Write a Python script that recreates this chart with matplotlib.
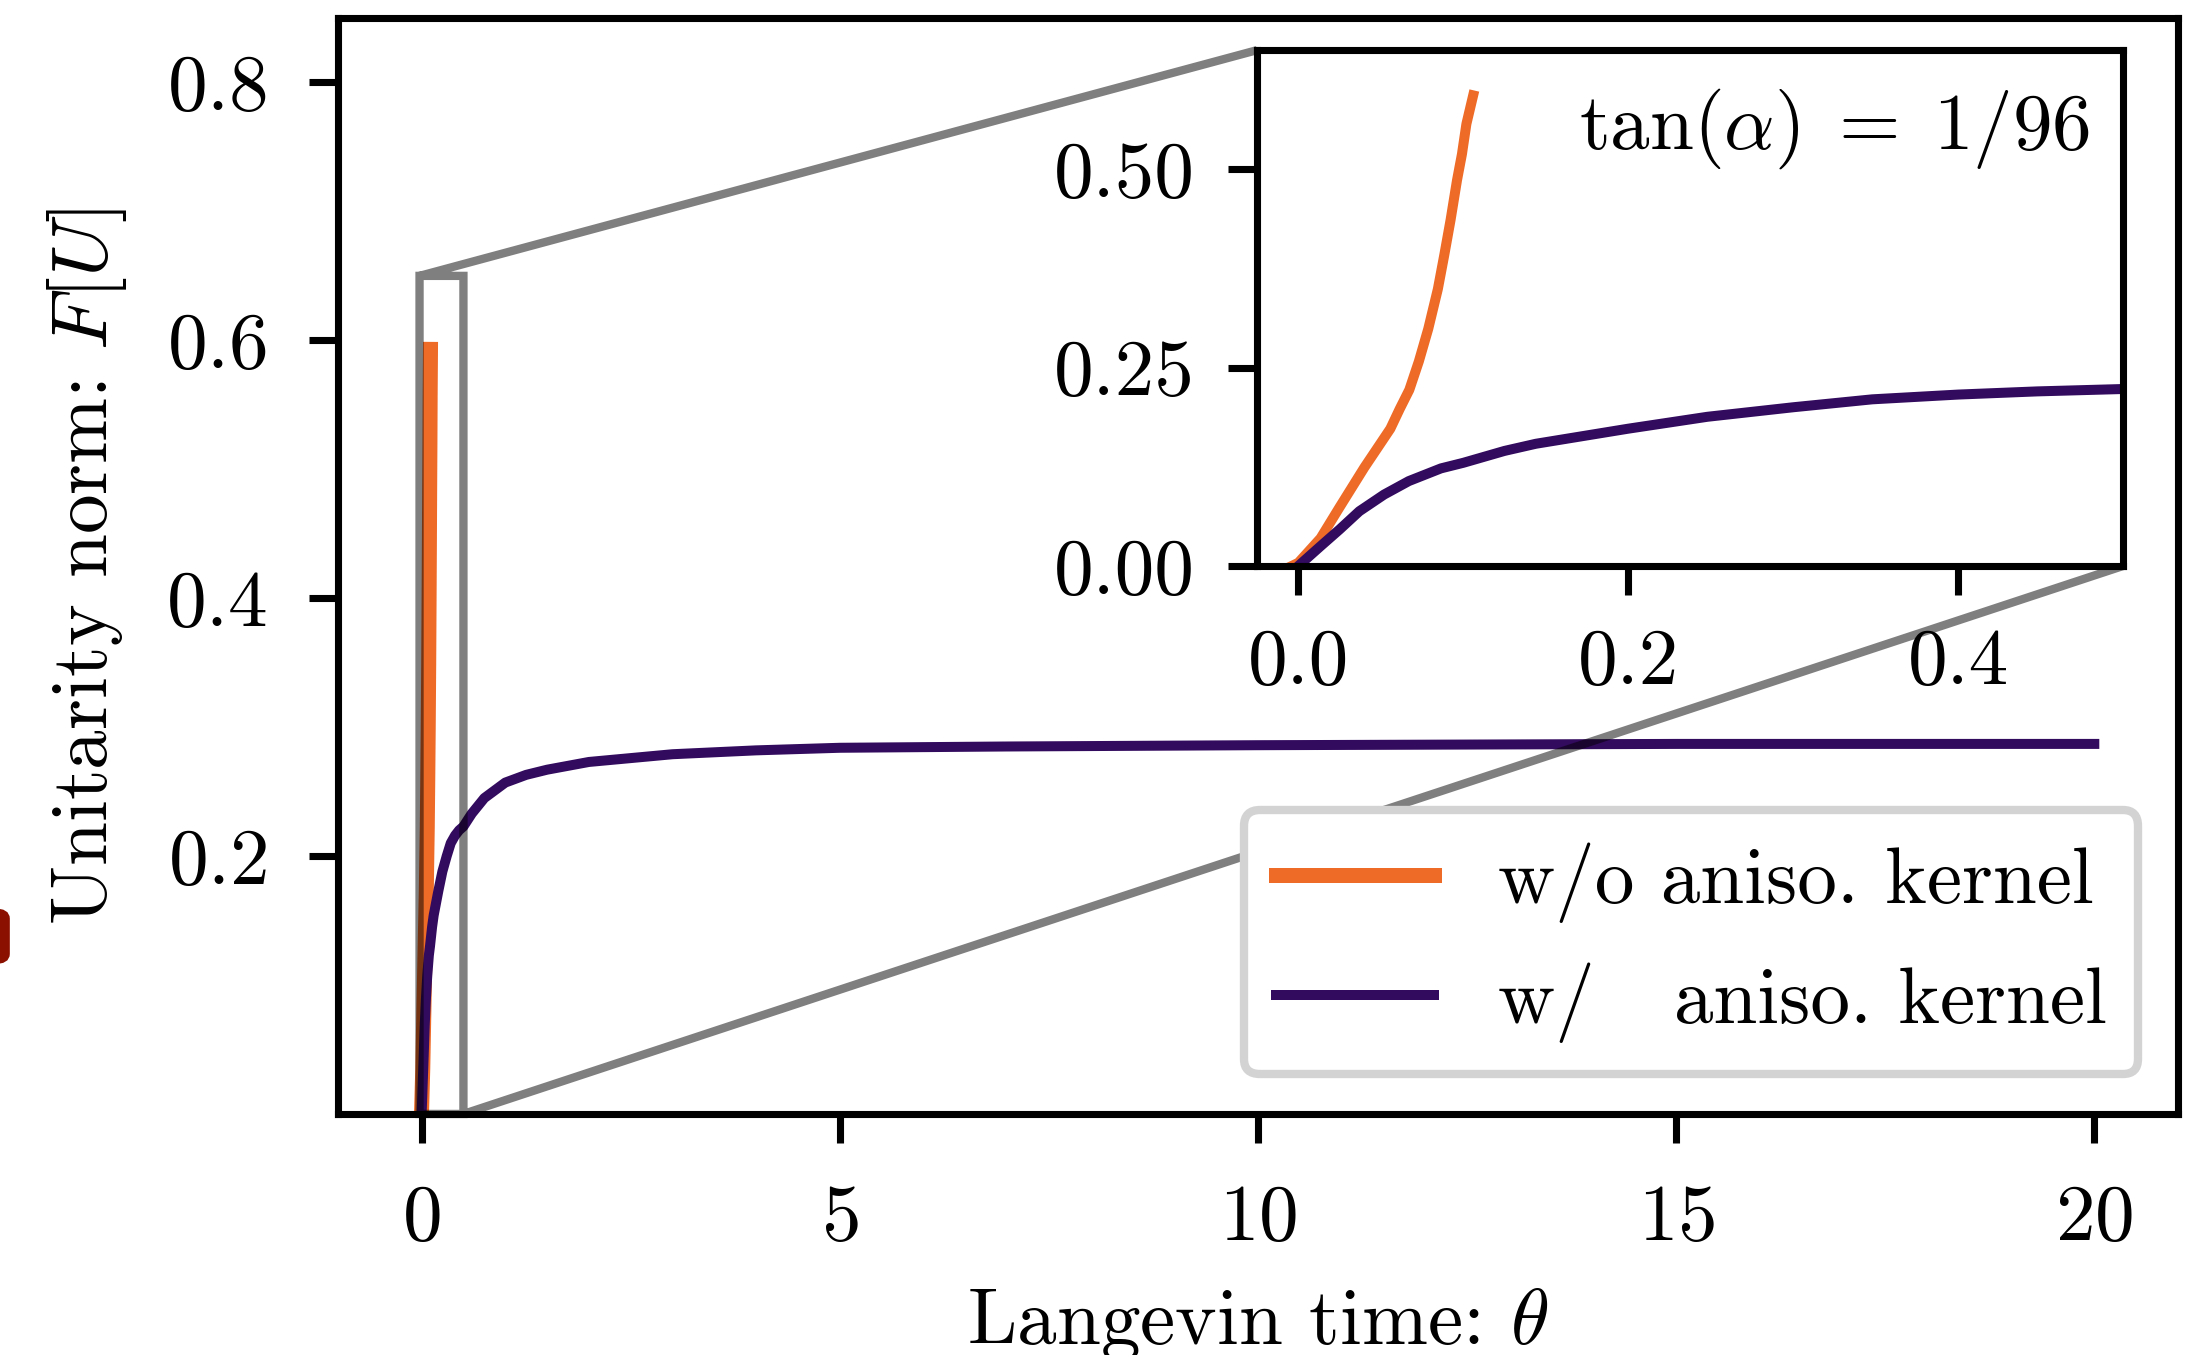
import matplotlib
matplotlib.use("Agg")
import matplotlib.pyplot as plt
from matplotlib.patches import FancyBboxPatch
import numpy as np

plt.rcParams['font.family'] = 'serif'
plt.rcParams['font.serif'] = ['cmr10']
plt.rcParams['mathtext.fontset'] = 'cm'
plt.rcParams['axes.formatter.use_mathtext'] = True
plt.rcParams['font.size'] = 19

# w/o anisotropic kernel (diverges quickly)
theta_wo = [-0.004, 0.0, 0.0135, 0.025, 0.040, 0.0558, 0.0615, 0.0673, 0.0731, 0.0788,
            0.0846, 0.0885, 0.0923, 0.0962, 0.0992, 0.1019, 0.106]
norm_wo = [0.0, 0.004, 0.035, 0.074, 0.124, 0.173, 0.198, 0.222, 0.258, 0.299,
           0.349, 0.392, 0.436, 0.486, 0.519, 0.557, 0.593]

# w/ anisotropic kernel
theta_w = [0.0, 0.0135, 0.025, 0.037, 0.052, 0.067, 0.0865, 0.1, 0.125, 0.144, 0.2, 0.248,
           0.3, 0.348, 0.4, 0.448, 0.5, 0.6, 0.75, 1.0, 1.25, 1.5, 2.0, 3.0, 4.0, 5.0,
           7.0, 10.0, 15.0, 20.0]
norm_w = [0.0, 0.025, 0.046, 0.069, 0.090, 0.107, 0.123, 0.130, 0.145, 0.154, 0.173, 0.188,
          0.200, 0.210, 0.216, 0.220, 0.223, 0.233, 0.245, 0.257, 0.263, 0.267, 0.273, 0.279,
          0.282, 0.284, 0.285, 0.286, 0.287, 0.287]

c_wo = '#ee6a27'
c_w = '#320a5e'

fig = plt.figure(figsize=(2212/300, 1355/300), dpi=300)
ax = fig.add_axes([0.1528, 0.1779, 0.8318, 0.8088])
ax.plot(theta_wo, norm_wo, color=c_wo, lw=3.6, label='w/o aniso. kernel')
ax.plot(theta_w, norm_w, color=c_w, lw=2.4, label='w/   aniso. kernel')
ax.set_xlim(-1, 21)
ax.set_ylim(0, 0.85)
ax.set_xticks([0, 5, 10, 15, 20])
ax.set_yticks([0.2, 0.4, 0.6, 0.8])
ax.set_xlabel(r'Langevin time: $\theta$', labelpad=7)
ax.set_ylabel(r'Unitarity norm: $F[U]$', labelpad=9)
leg = ax.legend(loc='lower right', framealpha=1, fancybox=True, handlelength=2.0,
                handletextpad=0.8)
leg.get_frame().set_edgecolor('#d3d3d3')
leg.get_frame().set_linewidth(2.0)

# inset
axins = fig.add_axes([0.5683, 0.5823, 0.3915, 0.3807])
axins.plot(theta_wo, norm_wo, color=c_wo, lw=2.4)
axins.plot(theta_w, norm_w, color=c_w, lw=2.4)
axins.set_xlim(-0.025, 0.5)
axins.set_ylim(0, 0.65)
axins.set_xticks([0.0, 0.2, 0.4])
axins.set_yticks([0.0, 0.25, 0.5])
axins.set_xticklabels(['0.0', '0.2', '0.4'])
axins.set_yticklabels(['0.00', '0.25', '0.50'])
axins.text(0.962, 0.93, r'$\tan(\alpha)\;=\;1/96$', transform=axins.transAxes,
           ha='right', va='top')
axins.tick_params(pad=8)

for a in (ax, axins):
    for s in a.spines.values():
        s.set_linewidth(1.7)
    a.tick_params(width=1.7, length=7)
ax.tick_params(pad=10)

ax.indicate_inset_zoom(axins, edgecolor='black', alpha=0.5, linewidth=2.0)

# clipped panel mark at the left edge
fig.add_artist(FancyBboxPatch((-0.01, 1 - 962/1355), 0.0135, 0.038,
                              boxstyle='round,pad=0,rounding_size=0.006',
                              transform=fig.transFigure, color='#8b1000',
                              clip_on=False))

fig.savefig('out.png', dpi=300)
